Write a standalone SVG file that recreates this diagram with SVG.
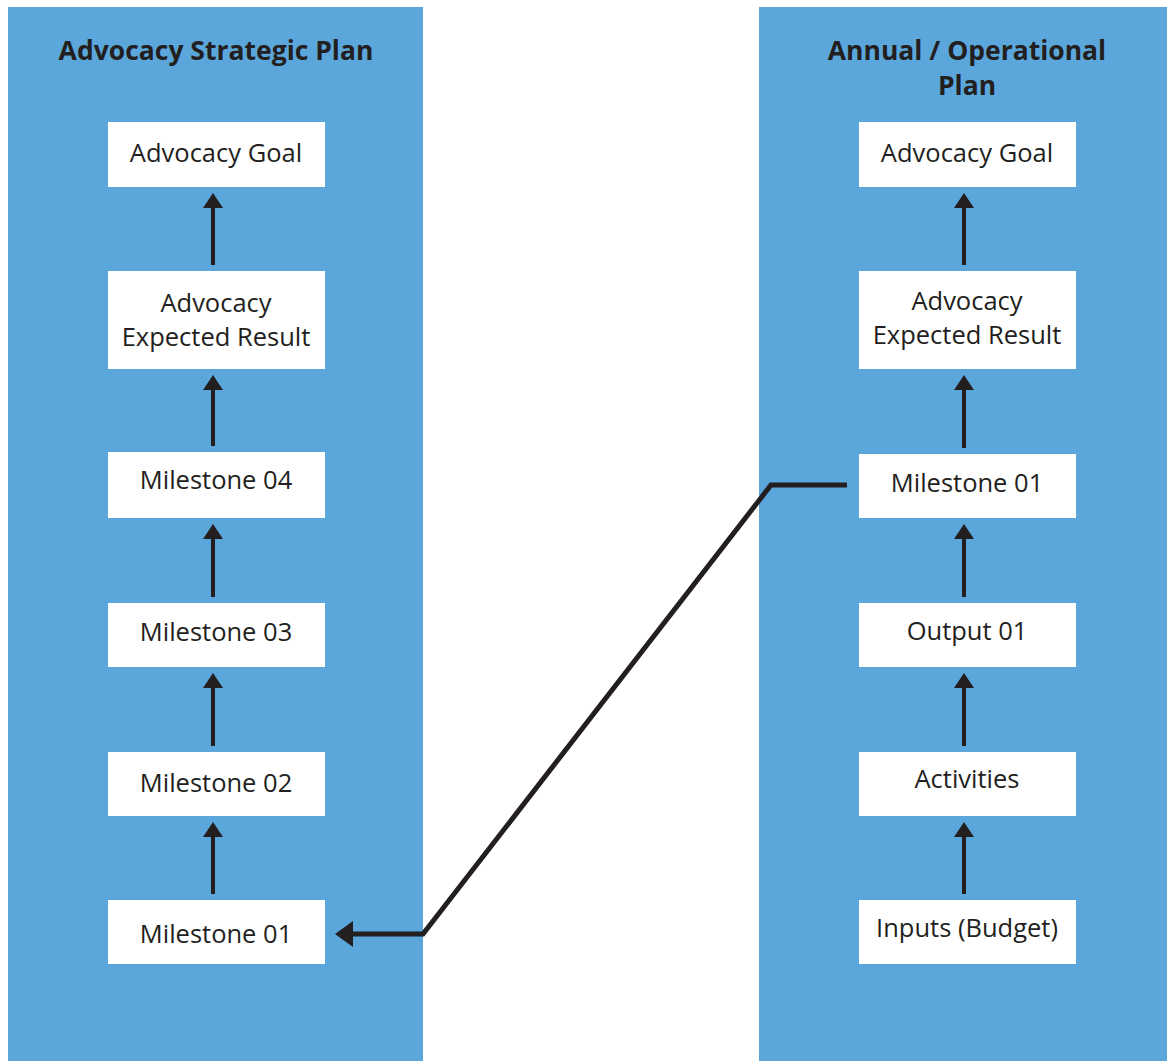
<svg xmlns="http://www.w3.org/2000/svg" width="1167" height="1061" viewBox="0 0 1167 1061">
<style>
.panel{fill:#5BA7DB}
.box{fill:#FFFFFF}
.t{font-family:"Open Sans","Noto Sans",sans-serif;font-size:25.5px;fill:#231F20;text-anchor:middle}
.h{font-family:"Open Sans","Noto Sans",sans-serif;font-size:26.5px;font-weight:bold;fill:#231F20;text-anchor:middle}
.a{stroke:#231F20;stroke-width:4;fill:none}
.c{stroke:#231F20;stroke-width:5;fill:none;stroke-linejoin:miter}
</style>
<defs>
<marker id="ah" viewBox="0 0 15 20" refX="0" refY="10" markerWidth="15" markerHeight="20" markerUnits="userSpaceOnUse" orient="auto">
<path d="M0,0 L15,10 L0,20 z" fill="#231F20"/>
</marker>
<marker id="ahb" viewBox="0 0 18 26" refX="0" refY="13" markerWidth="18" markerHeight="26" markerUnits="userSpaceOnUse" orient="auto">
<path d="M0,0 L18,13 L0,26 z" fill="#231F20"/>
</marker>
</defs>
<rect width="1167" height="1061" fill="#FFFFFF"/>
<g id="panel-left">
<rect class="panel" x="8" y="7" width="415" height="1054"/>
<text class="h" x="216" y="60">Advocacy Strategic Plan</text>
</g>
<g id="panel-right">
<rect class="panel" x="759" y="7" width="408" height="1054"/>
<text class="h" x="967" y="60">Annual / Operational</text>
<text class="h" x="967" y="95">Plan</text>
</g>
<g id="l-goal"><rect class="box" x="108" y="122" width="217" height="65"/><text class="t" x="216" y="162">Advocacy Goal</text></g>
<g id="l-result"><rect class="box" x="108" y="271" width="217" height="98"/><text class="t" x="216" y="312">Advocacy</text><text class="t" x="216" y="346">Expected Result</text></g>
<g id="l-m04"><rect class="box" x="108" y="452" width="217" height="66"/><text class="t" x="216" y="489">Milestone 04</text></g>
<g id="l-m03"><rect class="box" x="108" y="603" width="217" height="64"/><text class="t" x="216" y="641">Milestone 03</text></g>
<g id="l-m02"><rect class="box" x="108" y="752" width="217" height="64"/><text class="t" x="216" y="792">Milestone 02</text></g>
<g id="l-m01"><rect class="box" x="108" y="900" width="217" height="64"/><text class="t" x="216" y="943">Milestone 01</text></g>
<g id="r-goal"><rect class="box" x="859" y="122" width="217" height="65"/><text class="t" x="967" y="162">Advocacy Goal</text></g>
<g id="r-result"><rect class="box" x="859" y="271" width="217" height="98"/><text class="t" x="967" y="310">Advocacy</text><text class="t" x="967" y="344">Expected Result</text></g>
<g id="r-m01"><rect class="box" x="859" y="454" width="217" height="64"/><text class="t" x="967" y="492">Milestone 01</text></g>
<g id="r-output"><rect class="box" x="859" y="603" width="217" height="64"/><text class="t" x="967" y="640">Output 01</text></g>
<g id="r-activities"><rect class="box" x="859" y="752" width="217" height="64"/><text class="t" x="967" y="788">Activities</text></g>
<g id="r-inputs"><rect class="box" x="859" y="900" width="217" height="64"/><text class="t" x="967" y="937">Inputs (Budget)</text></g>
<g id="connectors">
<line class="a" x1="213" y1="265" x2="213" y2="208" marker-end="url(#ah)"/>
<line class="a" x1="213" y1="446" x2="213" y2="390" marker-end="url(#ah)"/>
<line class="a" x1="213" y1="597" x2="213" y2="539" marker-end="url(#ah)"/>
<line class="a" x1="213" y1="746" x2="213" y2="688" marker-end="url(#ah)"/>
<line class="a" x1="213" y1="894" x2="213" y2="837" marker-end="url(#ah)"/>
<line class="a" x1="964" y1="265" x2="964" y2="208" marker-end="url(#ah)"/>
<line class="a" x1="964" y1="448" x2="964" y2="390" marker-end="url(#ah)"/>
<line class="a" x1="964" y1="597" x2="964" y2="539" marker-end="url(#ah)"/>
<line class="a" x1="964" y1="746" x2="964" y2="688" marker-end="url(#ah)"/>
<line class="a" x1="964" y1="894" x2="964" y2="837" marker-end="url(#ah)"/>
<polyline class="c" points="847,485 771,485 423,934 353,934" marker-end="url(#ahb)"/>
</g>
</svg>
